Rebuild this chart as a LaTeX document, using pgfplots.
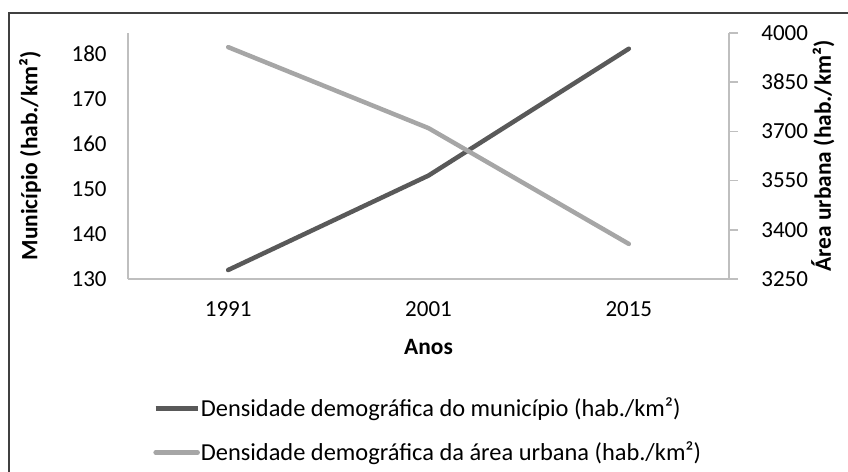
\documentclass[border=0pt]{standalone}
\usepackage{fontspec}
\setmainfont{Carlito}
\usepackage{pgfplots}
\pgfplotsset{compat=1.18}
\definecolor{darkline}{RGB}{89,89,89}
\definecolor{lightline}{RGB}{166,166,166}
\definecolor{axisgray}{RGB}{191,191,191}
\definecolor{framegray}{RGB}{64,64,64}
\begin{document}
\begin{tikzpicture}
\begin{axis}[
  scale only axis, width=300.5pt, height=123pt,
  xmin=-0.5, xmax=2.5, ymin=130, ymax=184.7,
  xtick={0,1,2}, xticklabels={1991,2001,2015},
  ytick={130,140,...,180},
  axis x line*=bottom, axis y line*=left,
  axis line style={axisgray, line width=0.75pt, -},
  major tick length=0pt, tick style={draw=none},
  label style={font=\fontsize{11.7}{14}\selectfont\bfseries},
  ticklabel style={font=\fontsize{11.5}{14}\selectfont},
  /pgf/number format/assume math mode=true,
  /pgf/number format/1000 sep={},
  xticklabel style={anchor=center, yshift=-15pt},
  yticklabel style={anchor=east, inner sep=0pt, xshift=-10.5pt},
  xlabel={Anos},
  xlabel style={at={(axis description cs:0.5,-0.276)}, anchor=center},
  ylabel={Município (hab./km²)},
  ylabel style={at={(axis description cs:-0.163,0.5)}, anchor=center},
]
\coordinate (O) at (rel axis cs:0,0);
\addplot[darkline, line width=2.25pt, line cap=round, line join=round] coordinates {(0,132.0) (1,153.0) (2,181.2)};
\end{axis}
\begin{axis}[
  scale only axis, width=300.5pt, height=123pt,
  xmin=-0.5, xmax=2.5, ymin=3250, ymax=4000,
  ytick={3250,3400,...,4000},
  axis x line=none, axis y line*=right,
  axis line style={axisgray, line width=0.75pt, -},
  tick align=outside, major tick length=4.5pt,
  ytick style={axisgray, line width=0.75pt},
  label style={font=\fontsize{11.7}{14}\selectfont\bfseries},
  ticklabel style={font=\fontsize{11.5}{14}\selectfont},
  /pgf/number format/assume math mode=true,
  /pgf/number format/1000 sep={},
  yticklabel style={anchor=west, inner sep=0pt, xshift=11.5pt},
  ylabel={Área urbana (hab./km²)},
  ylabel style={at={(axis description cs:1.156,0.5)}, anchor=center},
  legend cell align=left,
  legend style={at={(axis description cs:0.0416,-0.465)}, anchor=north west, draw=none, fill=none, inner sep=0pt, row sep=7pt, font=\fontsize{12.2}{14}\selectfont, nodes={inner xsep=0.5pt}},
  legend image code/.code={\draw[#1] (0pt,0pt) -- (21pt,0pt);},
]
\addlegendimage{darkline, line width=2.25pt}
\addlegendentry{Densidade demográfica do município (hab./km²)}
\addplot[lightline, line width=2.25pt, line cap=round, line join=round] coordinates {(0,3957) (1,3710) (2,3357)};
\addlegendentry{Densidade demográfica da área urbana (hab./km²)}
\end{axis}
\draw[line width=1pt, framegray, shift={(O)}] (-59.7pt,-96.5pt) -- (-59.7pt,133pt) -- (360pt,133pt);
\pgfresetboundingbox
\path[use as bounding box, shift={(O)}] (-64pt,-96.5pt) rectangle (360pt,139.5pt);
\end{tikzpicture}
\end{document}
